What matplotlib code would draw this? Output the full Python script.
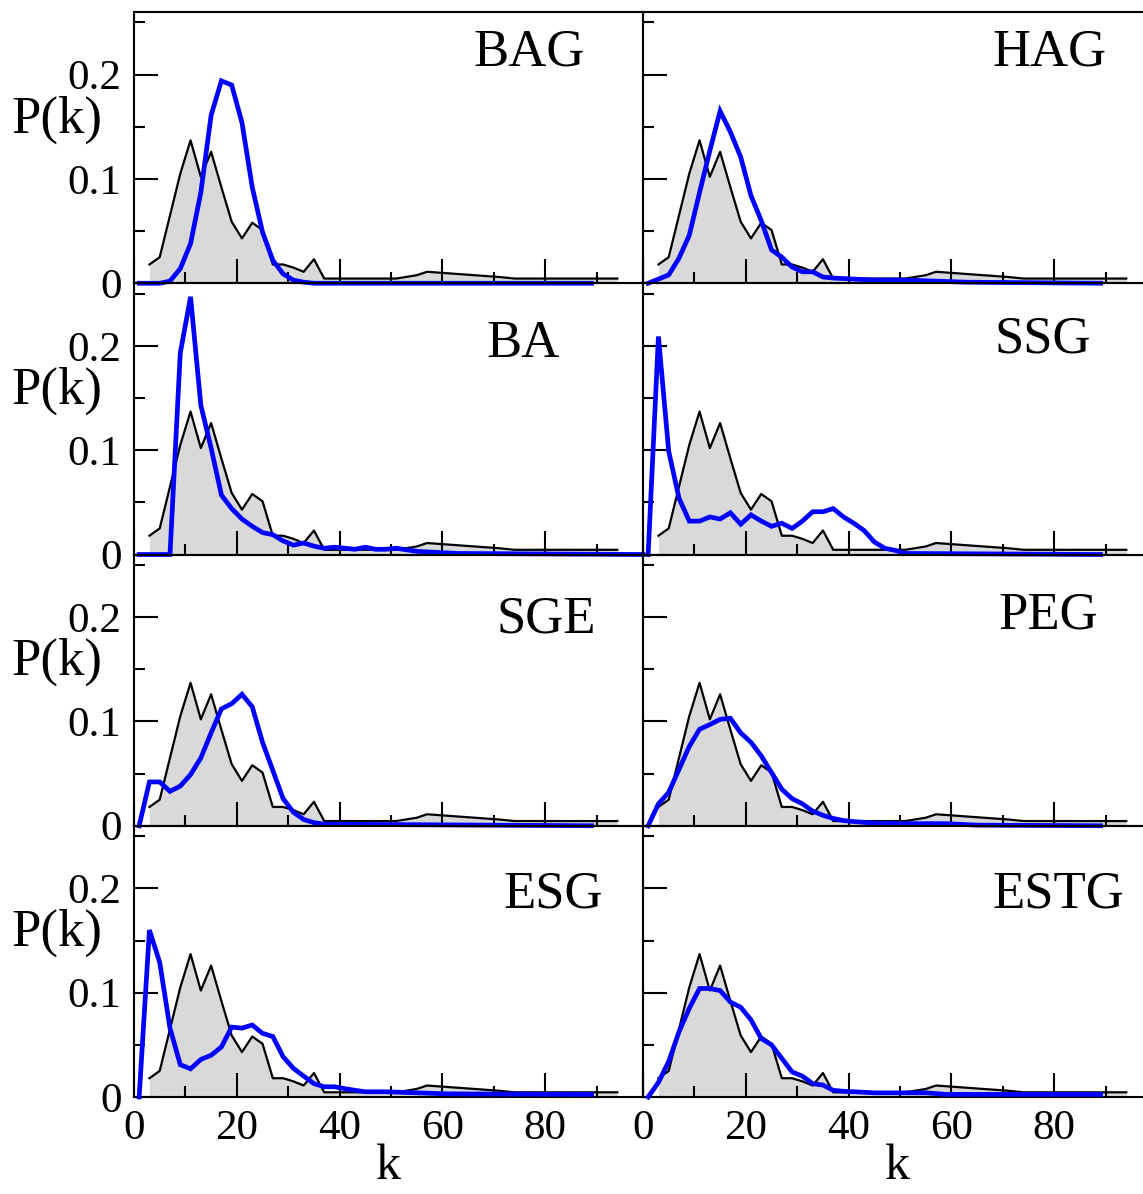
"""
Degree distributions P(k): empirical (grey) vs. eight network models (blue).
"""
import matplotlib

matplotlib.use("Agg")
import matplotlib.pyplot as plt
from matplotlib.ticker import MultipleLocator, FixedLocator, FixedFormatter

W_PX, H_PX = 1143, 1194
DPI = 100

# empirical distribution, drawn in every panel
k_emp = [3, 5, 7, 9, 11, 13, 15, 17, 19, 21, 23, 25, 27, 29, 31, 33, 35, 37,
         51, 55, 57, 71, 74, 94]
p_emp = [0.018, 0.025, 0.065, 0.105, 0.137, 0.102, 0.126, 0.092, 0.059, 0.043,
         0.058, 0.051, 0.018, 0.018, 0.015, 0.011, 0.023, 0.0045,
         0.0045, 0.0077, 0.011, 0.006, 0.0045, 0.0045]

# model curves
k_bag = [1, 5, 7, 9, 11, 13, 15, 17, 19, 21, 23, 25, 27, 29, 31, 33, 35, 89]
p_bag = [0, 0, 0.002, 0.014, 0.038, 0.087, 0.161, 0.194, 0.190, 0.154, 0.092,
         0.049, 0.022, 0.009, 0.003, 0.001, 0, 0]

k_hag = [1, 3, 5, 7, 9, 11, 13, 15, 17, 19, 21, 23, 25, 27, 29, 31, 33, 35, 37,
         41, 45, 51, 63, 89]
p_hag = [0, 0.004, 0.008, 0.024, 0.046, 0.087, 0.127, 0.165, 0.145, 0.121,
         0.084, 0.060, 0.032, 0.025, 0.0155, 0.011, 0.011, 0.006, 0.005,
         0.004, 0.003, 0.003, 0.001, 0]

k_ba = [1, 7, 9, 11, 13, 15, 17, 19, 21, 23, 25, 27, 29, 31, 33, 35, 37, 39,
        41, 43, 45, 47, 49, 51, 55, 63, 99]
p_ba = [0, 0, 0.193, 0.247, 0.143, 0.102, 0.057, 0.044, 0.034, 0.027, 0.021,
        0.019, 0.013, 0.009, 0.011, 0.008, 0.006, 0.007, 0.006, 0.005, 0.007,
        0.005, 0.005, 0.006, 0.003, 0.001, 0]

k_ssg = [1, 3, 5, 7, 9, 11, 13, 15, 17, 19, 21, 23, 25, 27, 29, 31, 33, 35, 37,
         39, 41, 43, 45, 47, 49, 51, 89]
p_ssg = [0, 0.209, 0.099, 0.054, 0.032, 0.032, 0.036, 0.034, 0.040, 0.029,
         0.038, 0.032, 0.027, 0.030, 0.025, 0.032, 0.041, 0.041, 0.044, 0.036,
         0.030, 0.023, 0.012, 0.006, 0.004, 0.001, 0]

k_sge = [1, 3, 5, 7, 9, 11, 13, 15, 17, 19, 21, 23, 25, 27, 29, 31, 33, 35, 37,
         89]
p_sge = [0, 0.042, 0.042, 0.033, 0.038, 0.049, 0.065, 0.089, 0.112, 0.117,
         0.126, 0.114, 0.080, 0.053, 0.026, 0.013, 0.006, 0.003, 0.0015, 0]

k_peg = [1, 3, 5, 7, 9, 11, 13, 15, 17, 19, 21, 23, 25, 27, 29, 31, 33, 35, 37,
         39, 41, 45, 51, 59, 65, 89]
p_peg = [0, 0.021, 0.032, 0.054, 0.076, 0.0925, 0.097, 0.102, 0.103, 0.089,
         0.080, 0.067, 0.051, 0.035, 0.026, 0.021, 0.014, 0.010, 0.007, 0.005,
         0.004, 0.0025, 0.002, 0.002, 0.0006, 0]

k_esg = [1, 3, 5, 7, 9, 11, 13, 15, 17, 19, 21, 23, 25, 27, 29, 31, 33, 35, 37,
         39, 41, 43, 45, 49, 55, 61, 89]
p_esg = [0, 0.160, 0.129, 0.066, 0.031, 0.027, 0.036, 0.040, 0.048, 0.067,
         0.066, 0.069, 0.061, 0.058, 0.0386, 0.0275, 0.020, 0.0128, 0.0098,
         0.0098, 0.008, 0.0064, 0.005, 0.005, 0.004, 0.003, 0.0025]

k_estg = [1, 3, 5, 7, 9, 11, 13, 15, 17, 19, 21, 23, 25, 27, 29, 31, 33, 35,
          37, 39, 41, 45, 55, 59, 89]
p_estg = [0, 0.014, 0.034, 0.0625, 0.085, 0.104, 0.104, 0.102, 0.091, 0.086,
          0.074, 0.056, 0.050, 0.037, 0.024, 0.020, 0.0128, 0.0115, 0.0064,
          0.0055, 0.005, 0.004, 0.004, 0.0025, 0.0025]

panel_names = ["BAG", "HAG", "BA", "SSG", "SGE", "PEG", "ESG", "ESTG"]
model_k = [k_bag, k_hag, k_ba, k_ssg, k_sge, k_peg, k_esg, k_estg]
model_p = [p_bag, p_hag, p_ba, p_ssg, p_sge, p_peg, p_esg, p_estg]
# where each panel's name sits (right edge in k, baseline in P)
name_pos = [(87.7, 0.209), (90.1, 0.209), (82.9, 0.189), (87.2, 0.194),
            (89.9, 0.185), (88.6, 0.189), (91.3, 0.182), (93.6, 0.182)]

TICK_FS = 31
LABEL_FS = 38


def _style_axes(ax, left_col, bottom_row):
    ax.set_facecolor("none")
    ax.set_xlim(0, 99)
    ax.set_ylim(0, 0.26)
    ax.xaxis.set_major_locator(MultipleLocator(20))
    ax.xaxis.set_minor_locator(MultipleLocator(10))
    ax.yaxis.set_major_locator(FixedLocator([0, 0.1, 0.2]))
    ax.yaxis.set_major_formatter(FixedFormatter(["0", "0.1", "0.2"]))
    ax.yaxis.set_minor_locator(FixedLocator([0.05, 0.15, 0.25]))
    ax.tick_params(which="both", direction="in", top=False, right=False,
                   width=1.5, labelsize=TICK_FS, pad=9)
    ax.tick_params(which="major", length=17)
    ax.tick_params(which="minor", length=8)
    ax.tick_params(axis="x", labelbottom=bottom_row)
    ax.tick_params(axis="y", labelleft=left_col)
    for s in ax.spines.values():
        s.set_linewidth(1.5)
    if left_col:
        ax.set_ylabel("P(k)", fontsize=LABEL_FS, rotation=0, ha="center",
                      va="center")
        ax.yaxis.set_label_coords(-0.151, 0.604)
    if bottom_row:
        ax.set_xlabel("k", fontsize=36, labelpad=-3)


def main():
    plt.rcParams["font.family"] = ["Liberation Serif", "DejaVu Serif"]
    fig = plt.figure(figsize=(W_PX / DPI, H_PX / DPI), dpi=DPI)
    fig.patch.set_facecolor("white")

    left0, col_w = 134.0, 509.0
    top0, row_h = 12.0, 271.25

    for i, name in enumerate(panel_names):
        r, c = divmod(i, 2)
        x0 = left0 + c * col_w
        y_bot = top0 + (r + 1) * row_h
        ax = fig.add_axes([x0 / W_PX, 1 - y_bot / H_PX,
                           col_w / W_PX, row_h / H_PX])
        ax.fill_between(k_emp, p_emp, 0, color="#d9d9d9", lw=0, zorder=1)
        ax.plot(k_emp, p_emp, color="black", lw=1.6, zorder=2)
        ax.plot(model_k[i], model_p[i], color="#0000ff", lw=3.4, zorder=4,
                clip_on=False, solid_joinstyle="miter")
        tx, ty = name_pos[i]
        ax.text(tx, ty, name, fontsize=LABEL_FS, ha="right", va="baseline")
        _style_axes(ax, left_col=(c == 0), bottom_row=(r == 3))

    fig.savefig("out.png", dpi=DPI, facecolor="white")
    plt.close(fig)


if __name__ == "__main__":
    main()
